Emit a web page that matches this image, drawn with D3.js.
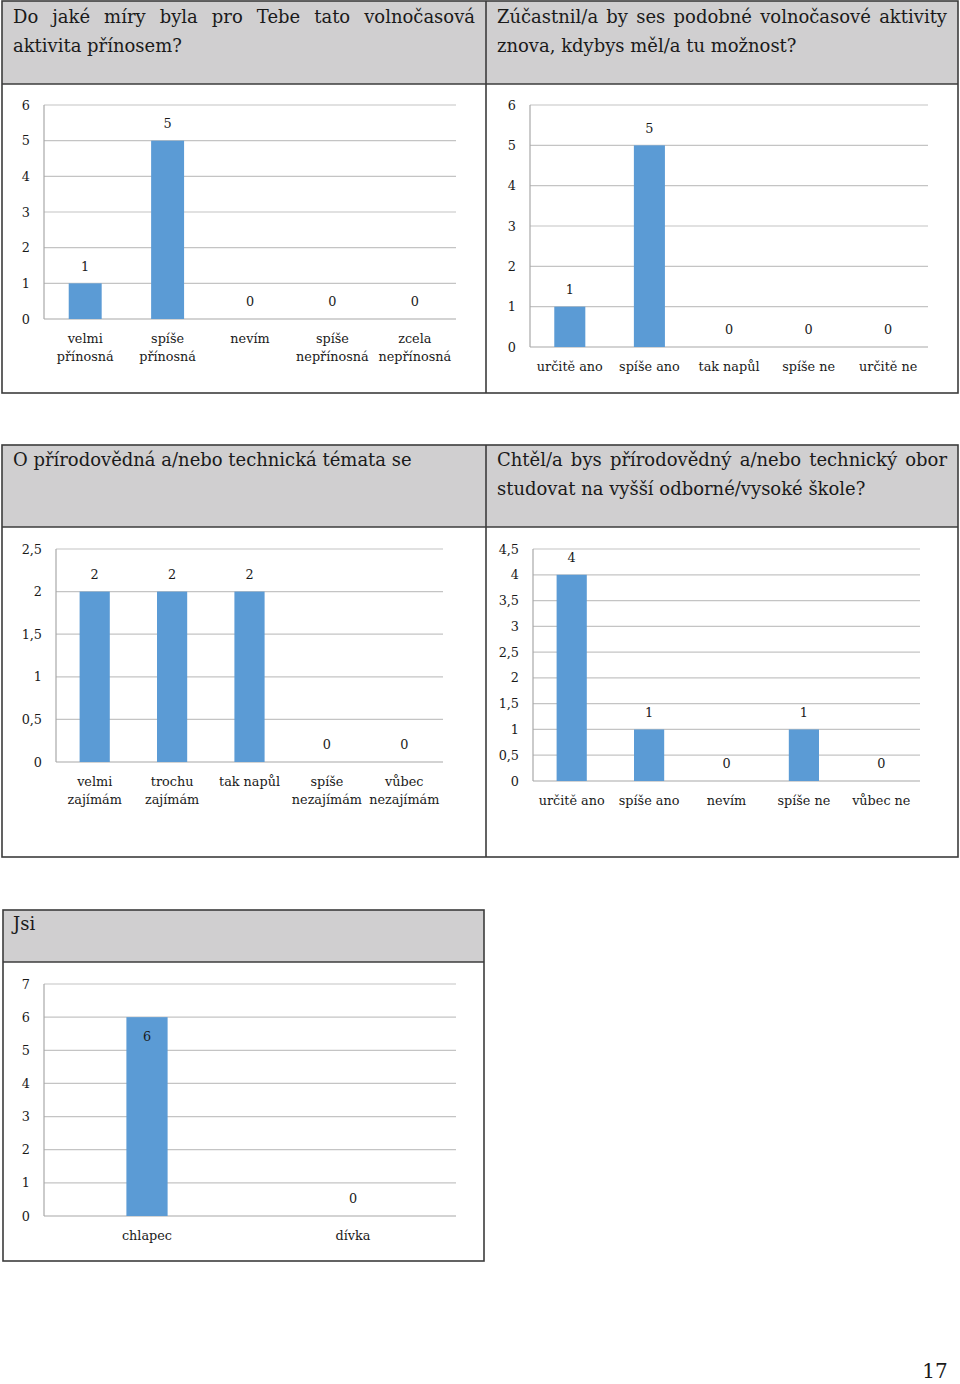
<!DOCTYPE html>
<html><head><meta charset="utf-8">
<script src="https://cdn.jsdelivr.net/npm/d3@7"></script>
<style>
body{margin:0;background:#fff;}
svg{display:block;font-family:"DejaVu Serif",serif;}
</style></head>
<body>
<svg id="page" width="960" height="1384"></svg>
<script>
// ---------- DATA ----------
const titles1 = ["Do jaké míry byla pro Tebe tato volnočasová", "aktivita přínosem?"];
const cats1 = ["velmi\npřínosná", "spíše\npřínosná", "nevím", "spíše\nnepřínosná", "zcela\nnepřínosná"];
const vals1 = [1, 5, 0, 0, 0];
const ticks1 = [0, 1, 2, 3, 4, 5, 6];

const titles2 = ["Zúčastnil/a by ses podobné volnočasové aktivity", "znova, kdybys měl/a tu možnost?"];
const cats2 = ["určitě ano", "spíše ano", "tak napůl", "spíše ne", "určitě ne"];
const vals2 = [1, 5, 0, 0, 0];
const ticks2 = [0, 1, 2, 3, 4, 5, 6];

const titles3 = ["O přírodovědná a/nebo technická témata se"];
const cats3 = ["velmi\nzajímám", "trochu\nzajímám", "tak napůl", "spíše\nnezajímám", "vůbec\nnezajímám"];
const vals3 = [2, 2, 2, 0, 0];
const ticks3 = [0, 0.5, 1, 1.5, 2, 2.5];

const titles4 = ["Chtěl/a bys přírodovědný a/nebo technický obor", "studovat na vyšší odborné/vysoké škole?"];
const cats4 = ["určitě ano", "spíše ano", "nevím", "spíše ne", "vůbec ne"];
const vals4 = [4, 1, 0, 1, 0];
const ticks4 = [0, 0.5, 1, 1.5, 2, 2.5, 3, 3.5, 4, 4.5];

const titles5 = ["Jsi"];
const cats5 = ["chlapec", "dívka"];
const vals5 = [6, 0];
const ticks5 = [0, 1, 2, 3, 4, 5, 6, 7];

const pageNumber = "17";

// ---------- STYLE / LAYOUT ----------
const BAR = "#5b9bd5", GRID = "#c4c4c4", AXIS = "#a8a8a8", HEAD = "#d0cfd0", BORDER = "#3c3c3c", TXT = "#1a1a1a";
const FONT = "DejaVu Serif, serif";
const czech = d3.formatLocale({decimal: ",", thousands: " ", grouping: [3], currency: ["", " Kč"]});
const fmt = czech.format("~g");
const svg = d3.select("#page");

function fitSize(str, target) {
  const t = svg.append("text").attr("font-size", 20).attr("font-family", FONT).text(str);
  const w = t.node().getComputedTextLength();
  t.remove();
  return 20 * target / w;
}
const TITLE_FS = Math.min(21, fitSize("O přírodovědná a/nebo technická témata se", 399));
const AXIS_FS = Math.min(16, fitSize("určitě ano", 66));

function table(x0, x1, y0, yHead, y1, divider) {
  const g = svg.append("g");
  g.append("rect").attr("x", x0).attr("y", y0).attr("width", x1 - x0).attr("height", yHead - y0).attr("fill", HEAD);
  g.append("rect").attr("x", x0).attr("y", y0).attr("width", x1 - x0).attr("height", y1 - y0)
    .attr("fill", "none").attr("stroke", BORDER).attr("stroke-width", 1.6);
  g.append("line").attr("x1", x0).attr("x2", x1).attr("y1", yHead).attr("y2", yHead).attr("stroke", BORDER).attr("stroke-width", 1.6);
  if (divider) g.append("line").attr("x1", divider).attr("x2", divider).attr("y1", y0).attr("y2", y1).attr("stroke", BORDER).attr("stroke-width", 1.6);
}

function title(lines, x, y, justifyWidth) {
  lines.forEach((s, i) => {
    const t = svg.append("text").attr("x", x).attr("y", y + i * 29).attr("font-size", TITLE_FS)
      .attr("fill", TXT).text(s);
    if (justifyWidth && i < lines.length - 1) {
      const w = t.node().getComputedTextLength();
      const spaces = (s.match(/ /g) || []).length;
      if (spaces > 0) t.attr("word-spacing", (justifyWidth - w) / spaces);
    }
  });
}

function chart(cfg) {
  const {cats, vals, ticks, x0, x1, yTop, yBot, ratio, inside} = cfg;
  const g = svg.append("g");
  const y = d3.scaleLinear().domain([0, d3.max(ticks)]).range([yBot, yTop]);
  const x = d3.scaleBand().domain(cats).range([x0, x1]).paddingInner(1 - ratio).paddingOuter((1 - ratio) / 2);
  g.selectAll(".grid").data(ticks).join("line")
    .attr("x1", x0).attr("x2", x1).attr("y1", d => y(d)).attr("y2", d => y(d))
    .attr("stroke", d => d === 0 ? AXIS : GRID).attr("stroke-width", 1.2);
  g.append("line").attr("x1", x0).attr("x2", x0).attr("y1", yTop).attr("y2", yBot).attr("stroke", AXIS).attr("stroke-width", 1.2);
  const yAxis = d3.axisLeft(y).tickValues(ticks).tickFormat(fmt).tickSize(0).tickPadding(14);
  const ya = g.append("g").attr("transform", `translate(${x0},0)`).call(yAxis);
  ya.select(".domain").remove();
  ya.selectAll("text").attr("font-size", AXIS_FS).attr("font-family", FONT).attr("fill", TXT);
  g.selectAll(".bar").data(cats).join("rect")
    .attr("x", d => x(d)).attr("width", x.bandwidth())
    .attr("y", (d, i) => y(vals[i])).attr("height", (d, i) => yBot - y(vals[i]))
    .attr("fill", BAR);
  g.selectAll(".val").data(cats).join("text")
    .attr("x", d => x(d) + x.bandwidth() / 2)
    .attr("y", (d, i) => (inside && vals[i] > 0) ? y(vals[i]) + 19 : y(vals[i]) - 17)
    .attr("dy", "0.35em").attr("text-anchor", "middle").attr("font-size", AXIS_FS).attr("fill", TXT)
    .text((d, i) => vals[i]);
  const cl = g.selectAll(".cat").data(cats).join("text")
    .attr("x", d => x(d) + x.bandwidth() / 2).attr("y", yBot + 20)
    .attr("text-anchor", "middle").attr("font-size", AXIS_FS).attr("fill", TXT);
  cl.each(function(d) {
    const lines = d.split("\n");
    const t = d3.select(this);
    lines.forEach((ln, j) => t.append("tspan").attr("x", x(d) + x.bandwidth() / 2).attr("dy", j === 0 ? "0.35em" : 18).text(ln));
  });
}

// ---------- TABLES ----------
table(2, 958, 1, 84, 393, 486);
table(2, 958, 445, 527, 857, 486);
table(3, 484, 910, 962, 1261, null);

title(titles1, 13, 23, 462);
title(titles2, 497, 23, 450);
title(titles3, 13, 466, null);
title(titles4, 497, 466, 450);
title(titles5, 13, 930, null);

chart({cats: cats1, vals: vals1, ticks: ticks1, x0: 44, x1: 456, yTop: 105, yBot: 319, ratio: 0.4});
chart({cats: cats2, vals: vals2, ticks: ticks2, x0: 530, x1: 928, yTop: 105, yBot: 347, ratio: 0.39});
chart({cats: cats3, vals: vals3, ticks: ticks3, x0: 56, x1: 443, yTop: 549, yBot: 762, ratio: 0.39});
chart({cats: cats4, vals: vals4, ticks: ticks4, x0: 533, x1: 920, yTop: 549, yBot: 781, ratio: 0.39});
chart({cats: cats5, vals: vals5, ticks: ticks5, x0: 44, x1: 456, yTop: 984, yBot: 1216, ratio: 0.2, inside: true});

svg.append("text").attr("x", 935).attr("y", 1378).attr("text-anchor", "middle").attr("font-size", 20).attr("fill", TXT).text(pageNumber);
</script>
</body></html>
